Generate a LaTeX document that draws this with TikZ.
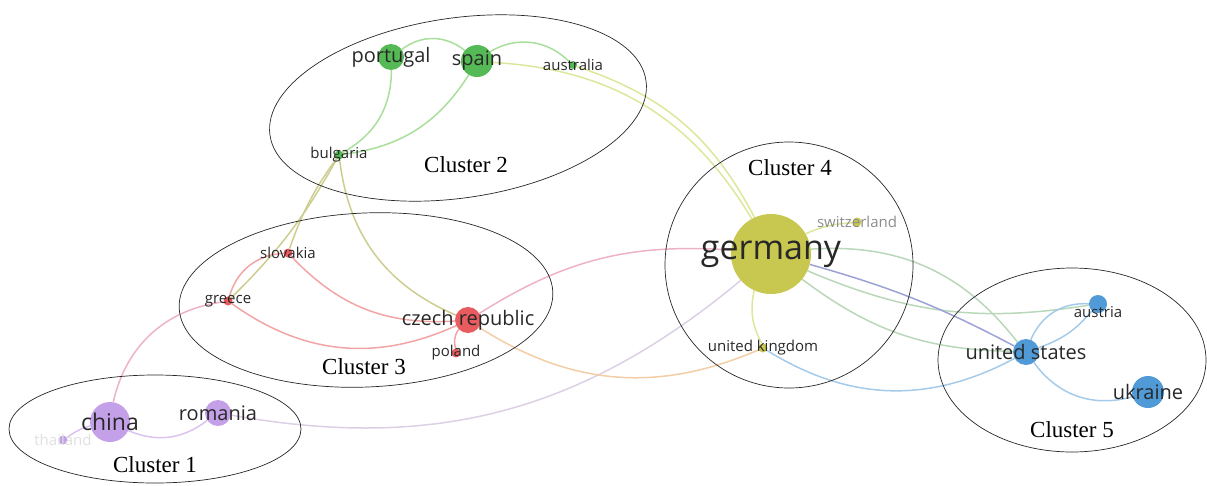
\documentclass[tikz,border=0pt]{standalone}
\usepackage{fontspec}
\setmainfont{Liberation Serif}
\newfontfamily\labfont{Open Sans}
\usetikzlibrary{backgrounds}

\definecolor{cpurple}{RGB}{196,160,232}
\definecolor{cgreen}{RGB}{85,185,85}
\definecolor{cred}{RGB}{232,92,96}
\definecolor{cyellow}{RGB}{200,200,80}
\definecolor{cblue}{RGB}{80,155,215}
\definecolor{labgray}{RGB}{40,40,40}
\definecolor{epurple}{RGB}{218,195,240}
\definecolor{egreen}{RGB}{170,222,155}
\definecolor{ered}{RGB}{243,165,165}
\definecolor{eyellow}{RGB}{222,230,155}
\definecolor{eblue}{RGB}{165,203,235}
\definecolor{epink}{RGB}{238,178,198}
\definecolor{eolive}{RGB}{205,205,145}
\definecolor{eorange}{RGB}{243,205,165}
\definecolor{elav}{RGB}{220,208,228}
\definecolor{esea}{RGB}{185,215,185}

\begin{document}
\begin{tikzpicture}[x=1pt, y=-1pt,
    dot/.style={circle, inner sep=0pt, minimum size=#1},
    lab/.style={font=\labfont\fontsize{#1}{#1}\selectfont, text=labgray},
    clab/.style={font=\fontsize{23}{23}\selectfont},
    ring/.style={draw=black!85, line width=0.7pt},
    link/.style={line width=1.5pt, draw=#1}]
\useasboundingbox (0,0) rectangle (1207,485);

% clusters
\draw[ring] (155,429) ellipse [x radius=146, y radius=54];
\draw[ring, rotate around={8.3:(458,108)}] (458,108) ellipse [x radius=190, y radius=90];
\draw[ring, rotate around={2.5:(366,300)}] (366,300) ellipse [x radius=187, y radius=87];
\draw[ring] (789,265) ellipse [x radius=124, y radius=123];
\draw[ring] (1072,360) ellipse [x radius=134, y radius=92];
\node[clab] (cl1) at (155,465) {Cluster 1};
\node[clab] (cl2) at (466,165) {Cluster 2};
\node[clab] (cl3) at (364,367) {Cluster 3};
\node[clab] (cl4) at (790,168) {Cluster 4};
\node[clab] (cl5) at (1072,430) {Cluster 5};

% cluster 1
\node[dot=9, fill=cpurple, label={[lab=15, text=black!12]center:thailand}] (thailand) at (63,440) {};
\node[dot=40, fill=cpurple, label={[lab=23]center:china}] (china) at (110,422) {};
\node[dot=26, fill=cpurple, label={[lab=20]center:romania}] (romania) at (218,413) {};
% cluster 2
\node[dot=26, fill=cgreen, label={[lab=20]center:portugal}] (portugal) at (391,57) {};
\node[dot=32, fill=cgreen, label={[lab=20]center:spain}] (spain) at (477,61) {};
\node[dot=8, fill=cgreen, label={[lab=15]center:australia}] (australia) at (573,65) {};
\node[dot=9, fill=cgreen, label={[lab=15]center:bulgaria}] (bulgaria) at (339,155) {};
% cluster 3
\node[dot=9, fill=cred, label={[lab=15]center:slovakia}] (slovakia) at (288,253) {};
\node[dot=9, fill=cred, label={[lab=15]center:greece}] (greece) at (228,301) {};
\node[dot=26, fill=cred, label={[lab=20]center:czech republic}] (czech) at (468,320) {};
\node[dot=9, fill=cred, label={[lab=15]center:poland}] (poland) at (456,353) {};
% cluster 4
\node[dot=80, fill=cyellow, label={[lab=34]center:germany}] (germany) at (771,254) {};
\node[dot=9, fill=cyellow, label={[lab=15, text=black!45]center:switzerland}] (switzerland) at (857,222) {};
\node[dot=9, fill=cyellow, label={[lab=15]center:united kingdom}] (uk) at (763,348) {};
% cluster 5
\node[dot=26, fill=cblue, label={[lab=20]center:united states}] (us) at (1026,352) {};
\node[dot=18, fill=cblue, label={[lab=15, yshift=-8pt]center:austria}] (austria) at (1098,304) {};
\node[dot=32, fill=cblue, label={[lab=20]center:ukraine}] (ukraine) at (1148,392) {};

% links
\begin{scope}[on background layer]
\draw[link=epurple]
    (china) edge[bend right=10] (thailand)
    (china) edge[bend right=30] (romania);
\draw[link=epink] (china) edge[bend left=35] (greece);
\draw[link=elav] (romania) edge[bend right=25] (germany);
\draw[link=egreen]
    (portugal) edge[bend left=38] (spain)
    (spain) edge[bend left=38] (australia)
    (bulgaria) edge[bend right=30] (portugal)
    (bulgaria) edge[bend right=25] (spain);
\draw[link=eyellow]
    (spain) edge[bend left=28] (germany)
    (australia) edge[bend left=22] (germany);
\draw[link=eolive]
    (bulgaria) edge[bend right=8] (slovakia)
    (bulgaria) edge[bend left=8] (greece)
    (bulgaria) edge[bend right=30] (czech);
\draw[link=ered]
    (slovakia) edge[bend right=35] (greece)
    (slovakia) edge[bend right=25] (czech)
    (greece) edge[bend right=30] (czech)
    (czech) edge[bend right=25] (poland);
\draw[link=epink] (czech) edge[bend left=18] (germany);
\draw[link=eorange] (czech) edge[bend right=28] (uk);
\draw[link=eyellow]
    (germany) edge[bend left=10] (switzerland)
    (germany) edge[bend right=20] (uk);
\draw[link=esea]
    (germany) edge[bend left=28] (us)
    (germany) edge[bend right=18] (us)
    (germany) edge[bend right=16] (austria);
\draw[link=eblue!80!violet] (germany) edge[bend left=6] (us);
\draw[link=eblue]
    (uk) edge[bend right=30] (us)
    (us) edge[bend left=35] (austria)
    (us) edge[bend right=15] (austria)
    (us) edge[bend right=35] (ukraine);
\end{scope}
\end{tikzpicture}
\end{document}
